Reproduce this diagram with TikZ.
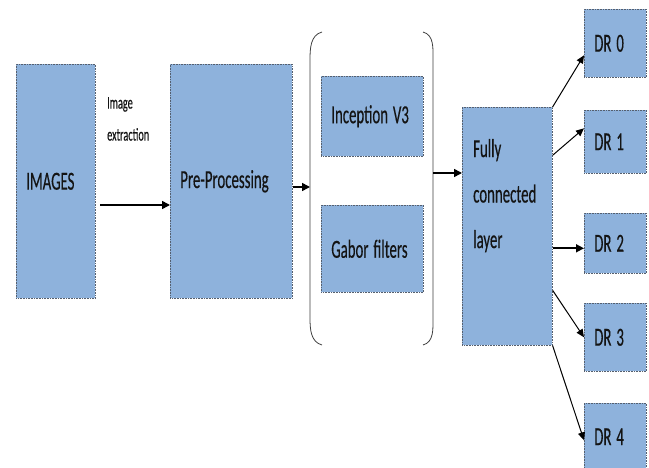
\documentclass[tikz,border=0pt]{standalone}
\usepackage{fontspec}
\setmainfont{Carlito}[FakeBold=0.5]
\usepackage{graphicx}
\usetikzlibrary{arrows.meta,calc}
\definecolor{boxblue}{RGB}{142,178,220}
\definecolor{boxedge}{RGB}{85,95,110}
\definecolor{txt}{RGB}{20,20,20}
\newcommand\sx[1]{\scalebox{0.57}[1]{#1}}
\begin{document}
\begin{tikzpicture}[x=1pt,y=-1pt,
  box/.style={draw=boxedge, densely dotted, line width=0.6pt, fill=boxblue,
    inner xsep=10pt, inner ysep=0pt, align=left, text=txt,
    font=\fontsize{26}{30}\selectfont, anchor=north west},
  arr/.style={-{Triangle[length=8pt,width=8pt]}, line width=1.6pt, black, solid},
  tarr/.style={arr, line width=1pt, -{Triangle[length=8pt,width=7pt]}},
  brk/.style={line width=0.8pt, black!75}]
\useasboundingbox (0,0) rectangle (649,468);
\fill[white] (0,0) rectangle (649,468);

\node[box, text width=59pt, minimum height=234pt] (img) at (16,64) {\sx{IMAGES}};
\node[box, text width=102pt, minimum height=234pt] (pre) at (170,64) {\sx{Pre-Processing}};
\node[box, text width=82pt, minimum height=80pt] (inc) at (321,76) {\sx{Inception V3}};
\node[box, text width=82pt, minimum height=87pt] (gab) at (321,205) {\sx{Gabor filters}};
\node[box, text width=70pt, minimum height=238pt] (fc) at (462,107) {};
\node[anchor=north west, inner sep=0pt, text=txt, font=\fontsize{26}{45.5}\selectfont] (fct) at (473,125)
  {\sx{\begin{tabular}{@{}l@{}}Fully\\connected\\layer\end{tabular}}};

\node[box, text width=42pt, minimum height=68pt] (dr0) at (584,9) {\sx{DR 0}};
\node[box, text width=42pt, minimum height=63pt] (dr1) at (584,110) {\sx{DR 1}};
\node[box, text width=42pt, minimum height=60pt] (dr2) at (584,213) {\sx{DR 2}};
\node[box, text width=42pt, minimum height=68pt] (dr3) at (584,303) {\sx{DR 3}};
\node[box, text width=42pt, minimum height=67pt] (dr4) at (584,403) {\sx{DR 4}};

\node[anchor=north west, inner sep=0pt, text=txt, font=\fontsize{18}{32}\selectfont] (lab) at (107,86)
  {\sx{\begin{tabular}{@{}l@{}}Image\\extraction\end{tabular}}};

% brackets
\draw[brk] (322,32) to[out=195,in=90] (310,60) -- (310,318) to[out=-90,in=165] (322,345);
\draw[brk] (423,32) to[out=-15,in=90] (433,60) -- (433,318) to[out=-90,in=15] (423,345);

\coordinate (ie) at (100,205);
\coordinate (lb) at (310,187);
\coordinate (rb) at (433,173);

\draw[arr] (ie) -- (ie -| pre.west);
\draw[arr] (pre.east |- lb) -- (lb);
\draw[arr] (rb) -- (rb -| fc.west);

\draw[tarr] (fc.north east) -- ([yshift=-12pt]dr0.west);
\draw[tarr] ([yshift=71pt]fc.east) -- ([yshift=13.5pt]dr1.west);
\draw[arr] ([yshift=-22pt]fc.east) -- ([yshift=-5pt]dr2.west);
\draw[tarr] ([yshift=-64pt]fc.east) -- (dr3.west);
\draw[tarr] (fc.south east) -- ([yshift=-3.5pt]dr4.west);
\end{tikzpicture}
\end{document}
